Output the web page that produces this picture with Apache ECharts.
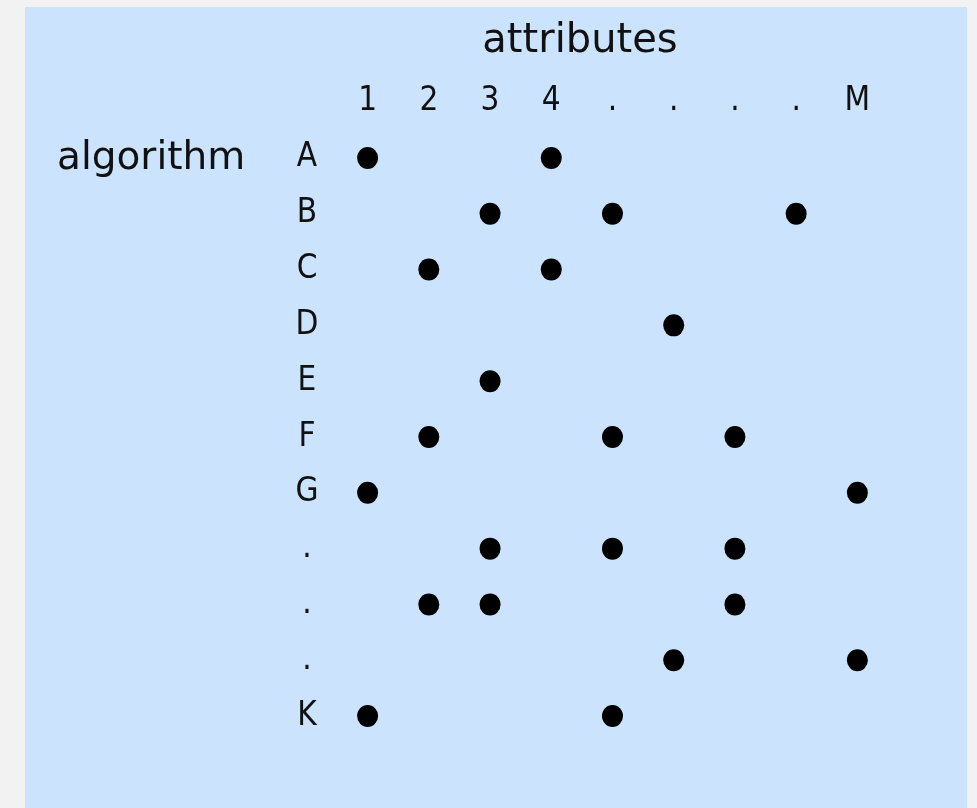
<!DOCTYPE html>
<html><head><meta charset="utf-8">
<script src="https://cdn.jsdelivr.net/npm/echarts@6/dist/echarts.min.js"></script>
<style>html,body{margin:0;padding:0;background:#f2f2f2;}#c{width:977px;height:808px;}</style>
</head><body><div id="c"></div>
<script>
const attributes = ['1','2','3','4','.','.','.','.','M'];
const algorithms = ['A','B','C','D','E','F','G','.','.','.','K'];
// each row: list of attribute indices (0-based) that have a dot
const rowA = [0,3];
const rowB = [2,4,7];
const rowC = [1,3];
const rowD = [5];
const rowE = [2];
const rowF = [1,4,6];
const rowG = [0,8];
const row8 = [2,4,6];
const row9 = [1,2,6];
const row10 = [5,8];
const rowK = [0,4];
const rows = [rowA,rowB,rowC,rowD,rowE,rowF,rowG,row8,row9,row10,rowK];
const points = [];
rows.forEach((r,i)=>r.forEach(c=>points.push([c,i])));

const NARROW = '"Liberation Sans Narrow","DejaVu Sans Condensed","DejaVu Sans",sans-serif';
const WIDE = '"DejaVu Sans",sans-serif';
const chart = echarts.init(document.getElementById('c'));
chart.setOption({
  animation:false,
  backgroundColor:'transparent',
  graphic:[
    {type:'rect', z:-10, shape:{x:25,y:7,width:942,height:801}, style:{fill:'#cce3fd'}},
    {type:'text', x:580, y:42, style:{text:'attributes', font:'40px '+WIDE, fill:'#111', align:'center', verticalAlign:'middle'}},
    {type:'text', x:57, y:159, style:{text:'algorithm', font:'39px '+WIDE, fill:'#111', align:'left', verticalAlign:'middle'}}
  ],
  grid:{left:337,top:130,width:551,height:614},
  xAxis:{type:'category', position:'top', data:attributes,
    axisLine:{show:false}, axisTick:{show:false}, splitLine:{show:false},
    axisLabel:{margin:12, fontSize:33, fontFamily:NARROW, color:'#111', interval:0}},
  yAxis:{type:'category', inverse:true, data:algorithms,
    axisLine:{show:false}, axisTick:{show:false}, splitLine:{show:false},
    axisLabel:{margin:30, align:'center', fontSize:33, fontFamily:NARROW, color:'#111', interval:0}},
  series:[{type:'scatter', data:points, symbol:'circle', symbolSize:[21,22],
    itemStyle:{color:'#000', opacity:1}, silent:true}]
});
</script></body></html>
